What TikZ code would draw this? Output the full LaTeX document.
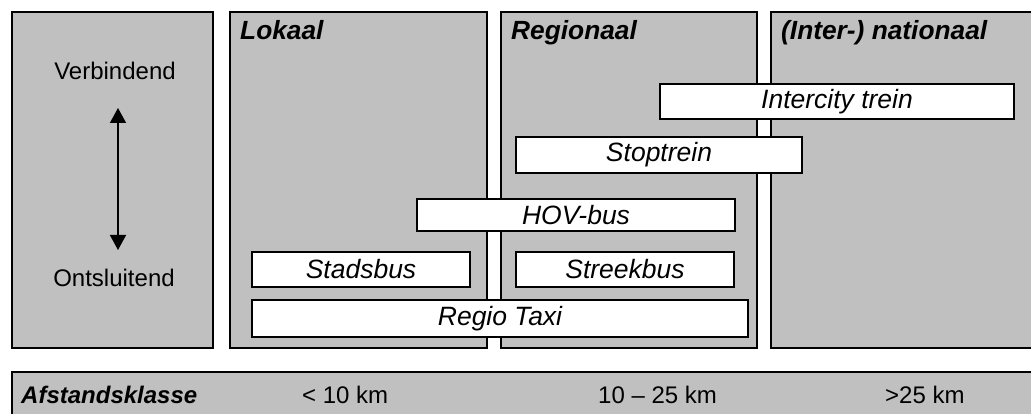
\documentclass[tikz,border=0pt]{standalone}
\usepackage{fontspec}
\setmainfont{Liberation Sans}
\usetikzlibrary{arrows.meta}
\definecolor{panelgray}{HTML}{C0C0C0}
\tikzset{
  panel/.style={draw=black, fill=panelgray, line width=1.5pt},
  wbox/.style={draw=black, fill=white, line width=1.5pt, inner sep=0pt,
    font=\fontsize{26.5}{30}\selectfont\itshape},
  head/.style={anchor=base west, inner sep=0pt, font=\fontsize{26.3}{30}\selectfont\bfseries\itshape},
  side/.style={anchor=base, inner sep=0pt, font=\fontsize{24}{28}\selectfont},
  dist/.style={anchor=base west, inner sep=0pt, font=\fontsize{24}{28}\selectfont},
}
\begin{document}
\begin{tikzpicture}[x=1pt,y=-1pt]
\useasboundingbox (0,0) rectangle (1031,414);
\clip (0,0) rectangle (1031,414);
% panels
\draw[panel] (12,12) rectangle (213,348);
\draw[panel] (230,12) rectangle (487,348);
\draw[panel] (501,12) rectangle (757,348);
\draw[panel] (771,12) rectangle (1040,348);
\draw[panel] (12,372) rectangle (1040,420);
% headers
\node[head] (lok) at (240,40) {Lokaal};
\node[head] (reg) at (511,40) {Regionaal};
\node[head] (nat) at (781,40) {(Inter-) nationaal};
% side labels
\node[side] (verb) at (115,80) {Verbindend};
\node[side] (onts) at (114,287) {Ontsluitend};
\coordinate (atop) at (118,108);
\coordinate (abot) at (118,250);
\draw[line width=1.5pt, {Triangle[width=16pt,length=15pt]}-{Triangle[width=16pt,length=15pt]}] (atop) -- (abot);
% white boxes
\node[wbox, minimum width=354pt, minimum height=35pt] (ic) at (837,101.5) {Intercity trein};
\node[wbox, minimum width=286pt, minimum height=36pt] (st) at (659,155) {Stoptrein};
\node[wbox, minimum width=318pt, minimum height=32pt] (hov) at (576,215) {HOV-bus};
\node[wbox, minimum width=218pt, minimum height=35pt] (sb) at (361,269.5) {Stadsbus};
\node[wbox, minimum width=218pt, minimum height=35pt] (eb) at (625,269.5) {Streekbus};
\node[wbox, minimum width=496pt, minimum height=37pt] (rt) at (500,318.5) {Regio Taxi};
% distance bar
\node[dist, font=\fontsize{24}{28}\selectfont\bfseries\itshape] (afs) at (21,403) {Afstandsklasse};
\node[dist] (d1) at (302,403) {< 10 km};
\node[dist] (d2) at (598,403) {10 – 25 km};
\node[dist] (d3) at (885,403) {>25 km};
\end{tikzpicture}
\end{document}
